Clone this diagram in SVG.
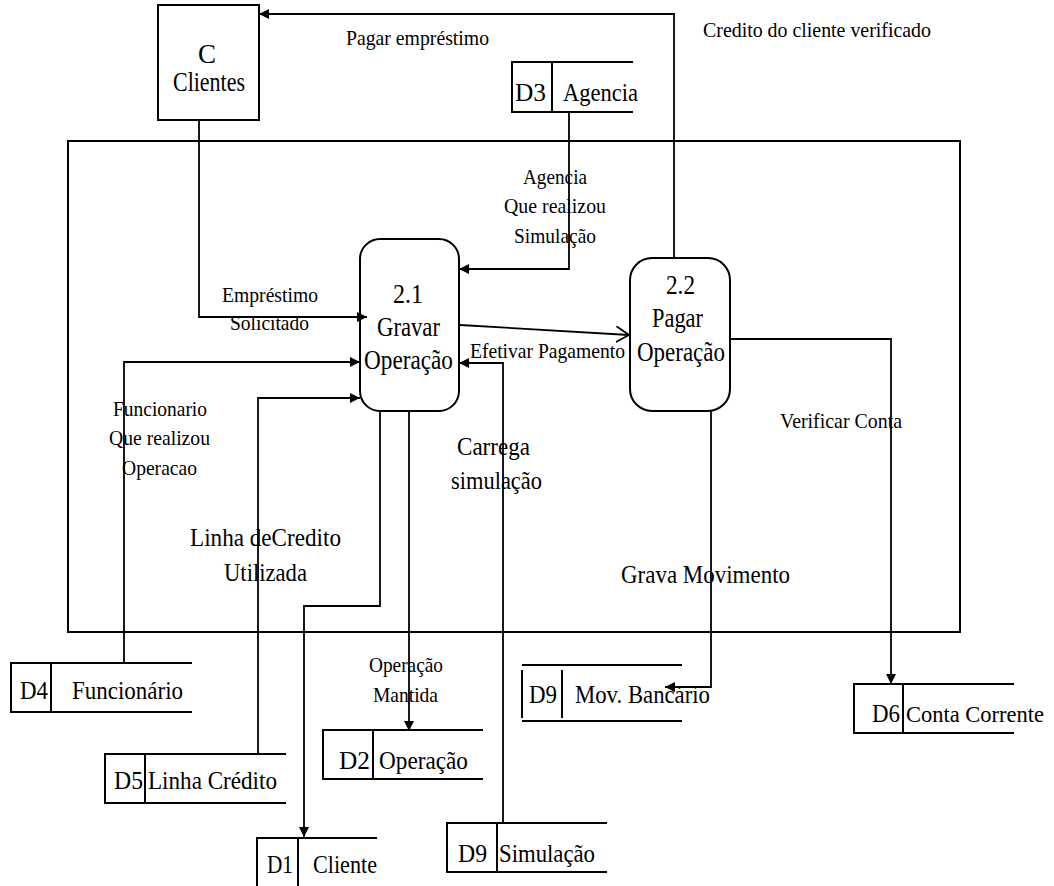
<svg xmlns="http://www.w3.org/2000/svg" width="1054" height="886" viewBox="0 0 1054 886" font-family="'Liberation Serif', 'Times New Roman', serif">
  <style>
    .edge { fill: none; stroke: #000; stroke-width: 2; }
    .flow { fill: none; stroke: #000; stroke-width: 1.8; }
    text { font-family: "Liberation Serif", "Times New Roman", serif; fill: #000; }
    .s { font-size: 22px; }
    .b { font-size: 26px; }
    .p { font-size: 27px; }
  </style>
  <defs>
    <marker id="arrow" markerUnits="userSpaceOnUse" markerWidth="12" markerHeight="12" refX="10" refY="5" orient="auto">
      <path d="M0,0 L10,5 L0,10 Z" fill="#000"/>
    </marker>
    <marker id="open" markerUnits="userSpaceOnUse" markerWidth="16" markerHeight="18" refX="13" refY="8" orient="auto">
      <path d="M0,0 L13,8 L0,16" fill="none" stroke="#000" stroke-width="1.8"/>
    </marker>
  </defs>

  <!-- system boundary -->
  <rect id="boundary" class="edge" x="68" y="141" width="892" height="491"/>

  <!-- free labels -->
  <text class="s" x="346" y="45" textLength="143" lengthAdjust="spacingAndGlyphs">Pagar empréstimo</text>
  <text class="s" x="703" y="37" textLength="228" lengthAdjust="spacingAndGlyphs">Credito do cliente verificado</text>

  <!-- connectors -->
  <g id="connectors">
    <path class="flow" d="M199,120 V317 H367" marker-end="url(#arrow)"/>
    <path class="flow" d="M569,112 V269 H459" marker-end="url(#arrow)"/>
    <path class="flow" d="M124,663 V362 H360" marker-end="url(#arrow)"/>
    <path class="flow" d="M258,754 V398 H360" marker-end="url(#arrow)"/>
    <path class="flow" d="M460,325 L629,335" marker-end="url(#open)"/>
    <path class="flow" d="M503,823 V363 H459" marker-end="url(#arrow)"/>
    <path class="flow" d="M380,411 V606 H304 V837" marker-end="url(#arrow)"/>
    <path class="flow" d="M409,411 V731" marker-end="url(#arrow)"/>
    <path class="flow" d="M674,258 V14 H259" marker-end="url(#arrow)"/>
    <path class="flow" d="M731,339 H891 V684" marker-end="url(#arrow)"/>
    <path class="flow" d="M711,411 V687 H665" marker-end="url(#arrow)"/>

    <text class="s" x="523" y="184" textLength="64" lengthAdjust="spacingAndGlyphs">Agencia</text>
    <text class="s" x="504" y="213" textLength="102" lengthAdjust="spacingAndGlyphs">Que realizou</text>
    <text class="s" x="514" y="243" textLength="82" lengthAdjust="spacingAndGlyphs">Simulação</text>

    <text class="s" x="222" y="302" textLength="96" lengthAdjust="spacingAndGlyphs">Empréstimo</text>
    <text class="s" x="230" y="330" textLength="79" lengthAdjust="spacingAndGlyphs">Solicitado</text>

    <text class="s" x="470" y="358" textLength="155" lengthAdjust="spacingAndGlyphs">Efetivar Pagamento</text>

    <text class="s" x="113" y="416" textLength="94" lengthAdjust="spacingAndGlyphs">Funcionario</text>
    <text class="s" x="109" y="445" textLength="101" lengthAdjust="spacingAndGlyphs">Que realizou</text>
    <text class="s" x="122" y="475" textLength="75" lengthAdjust="spacingAndGlyphs">Operacao</text>

    <text class="s" x="780" y="428" textLength="122" lengthAdjust="spacingAndGlyphs">Verificar Conta</text>

    <text class="b" x="457" y="455" textLength="73" lengthAdjust="spacingAndGlyphs">Carrega</text>
    <text class="b" x="451" y="489" textLength="91" lengthAdjust="spacingAndGlyphs">simulação</text>

    <text class="b" x="190" y="546" textLength="151" lengthAdjust="spacingAndGlyphs">Linha deCredito</text>
    <text class="b" x="224" y="581" textLength="83" lengthAdjust="spacingAndGlyphs">Utilizada</text>

    <text class="b" x="621" y="583" textLength="169" lengthAdjust="spacingAndGlyphs">Grava Movimento</text>

    <text class="s" x="369" y="672" textLength="74" lengthAdjust="spacingAndGlyphs">Operação</text>
    <text class="s" x="373" y="702" textLength="65" lengthAdjust="spacingAndGlyphs">Mantida</text>
  </g>

  <!-- external entity -->
  <g id="clientes">
    <rect class="edge" x="158" y="5" width="101" height="115"/>
    <text class="p" x="207" y="63" text-anchor="middle">C</text>
    <text class="p" x="173" y="91" textLength="72" lengthAdjust="spacingAndGlyphs">Clientes</text>
  </g>

  <!-- processes -->
  <g id="p21">
    <rect class="edge" x="360" y="239" width="99" height="172" rx="20" ry="20"/>
    <text class="p" x="393" y="303" textLength="30" lengthAdjust="spacingAndGlyphs">2.1</text>
    <text class="p" x="377" y="336" textLength="63" lengthAdjust="spacingAndGlyphs">Gravar</text>
    <text class="p" x="364" y="369" textLength="89" lengthAdjust="spacingAndGlyphs">Operação</text>
  </g>
  <g id="p22">
    <rect class="edge" x="630" y="258" width="100" height="153" rx="22" ry="22"/>
    <text class="p" x="666" y="294" textLength="29" lengthAdjust="spacingAndGlyphs">2.2</text>
    <text class="p" x="652" y="327" textLength="51" lengthAdjust="spacingAndGlyphs">Pagar</text>
    <text class="p" x="637" y="361" textLength="88" lengthAdjust="spacingAndGlyphs">Operação</text>
  </g>

  <!-- data stores -->
  <g id="d3">
    <path class="edge" d="M633,62 H512 V112 H633 M552,62 V112"/>
    <text class="b" x="515" y="101" textLength="31" lengthAdjust="spacingAndGlyphs">D3</text>
    <text class="b" x="563" y="101" textLength="75" lengthAdjust="spacingAndGlyphs">Agencia</text>
  </g>
  <g id="d4">
    <path class="edge" d="M192,663 H11 V712 H192 M51,663 V712"/>
    <text class="b" x="20" y="699" textLength="28" lengthAdjust="spacingAndGlyphs">D4</text>
    <text class="b" x="72" y="699" textLength="111" lengthAdjust="spacingAndGlyphs">Funcionário</text>
  </g>
  <g id="d5">
    <path class="edge" d="M286,754 H105 V803 H286 M145,754 V803"/>
    <text class="b" x="114" y="789" textLength="29" lengthAdjust="spacingAndGlyphs">D5</text>
    <text class="b" x="148" y="789" textLength="129" lengthAdjust="spacingAndGlyphs">Linha Crédito</text>
  </g>
  <g id="d2">
    <path class="edge" d="M483,730 H323 V779 H483 M373,730 V779"/>
    <text class="b" x="339" y="769" textLength="31" lengthAdjust="spacingAndGlyphs">D2</text>
    <text class="b" x="379" y="769" textLength="89" lengthAdjust="spacingAndGlyphs">Operação</text>
  </g>
  <g id="d1">
    <path class="edge" d="M377,838 H257 V888 H377 M298,838 V888"/>
    <text class="b" x="267" y="873" textLength="26" lengthAdjust="spacingAndGlyphs">D1</text>
    <text class="b" x="313" y="873" textLength="64" lengthAdjust="spacingAndGlyphs">Cliente</text>
  </g>
  <g id="d9-simulacao">
    <path class="edge" d="M607,823 H447 V872 H607 M497,823 V872"/>
    <text class="b" x="458" y="862" textLength="29" lengthAdjust="spacingAndGlyphs">D9</text>
    <text class="b" x="499" y="862" textLength="96" lengthAdjust="spacingAndGlyphs">Simulação</text>
  </g>
  <g id="d9-movimento">
    <path class="edge" d="M522,665 H682 M522,721 H682 M522,670 V718 M562,670 V718"/>
    <text class="b" x="529" y="703" textLength="28" lengthAdjust="spacingAndGlyphs">D9</text>
    <text class="b" x="575" y="703" textLength="135" lengthAdjust="spacingAndGlyphs">Mov. Bancário</text>
  </g>
  <g id="d6">
    <path class="edge" d="M1014,684 H854 V733 H1014 M903,684 V733"/>
    <text class="b" x="872" y="722" textLength="28" lengthAdjust="spacingAndGlyphs">D6</text>
    <text x="906" y="722" font-size="23" textLength="138" lengthAdjust="spacingAndGlyphs">Conta Corrente</text>
  </g>
</svg>
